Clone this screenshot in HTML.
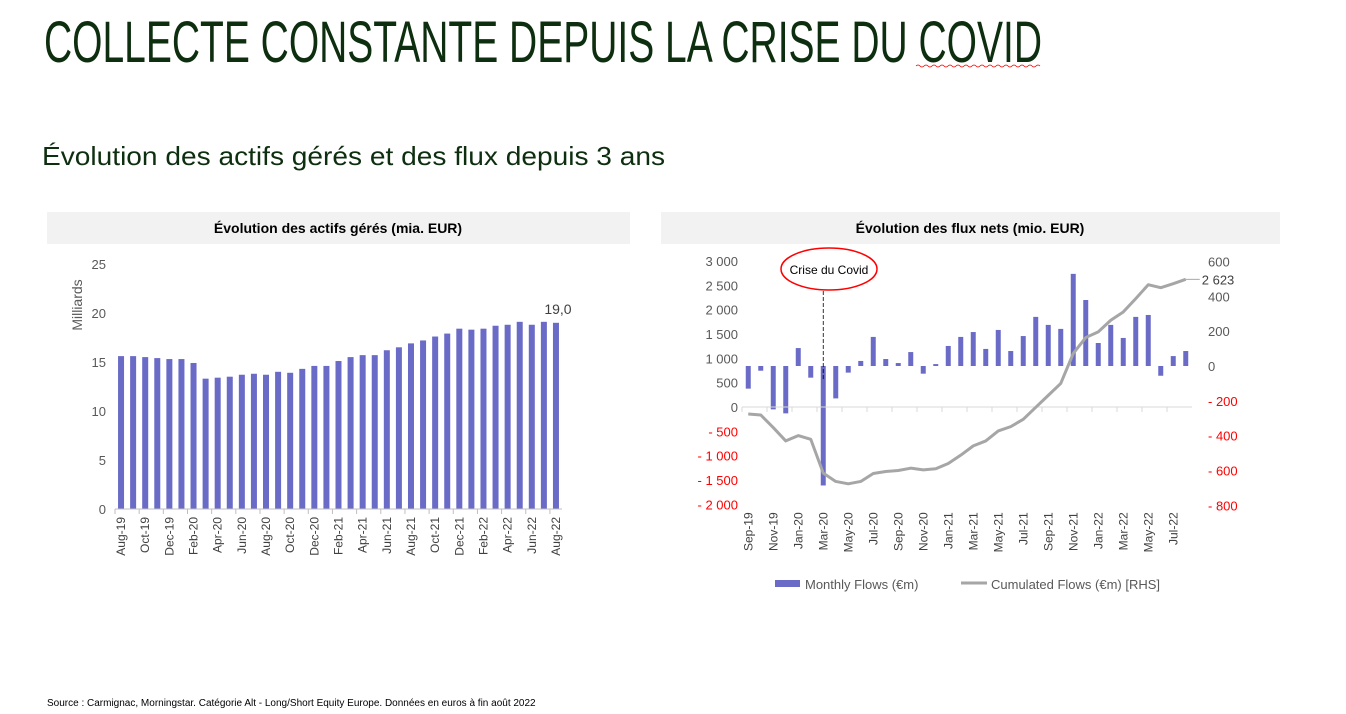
<!DOCTYPE html>
<html><head><meta charset="utf-8">
<style>
html,body{margin:0;padding:0;background:#fff;width:1346px;height:714px;overflow:hidden}
svg{display:block;font-family:"Liberation Sans",sans-serif}
</style></head>
<body>
<svg id="root" width="1346" height="714" viewBox="0 0 1346 714">
<text x="44" y="62" font-family="'Liberation Sans Narrow','Liberation Sans',sans-serif" font-size="58" fill="#0d2e0f" textLength="998" lengthAdjust="spacingAndGlyphs">COLLECTE CONSTANTE DEPUIS LA CRISE DU COVID</text>
<path d="M916 66 q2 -2 4 0 t4 0 t4 0 t4 0 t4 0 t4 0 t4 0 t4 0 t4 0 t4 0 t4 0 t4 0 t4 0 t4 0 t4 0 t4 0 t4 0 t4 0 t4 0 t4 0 t4 0 t4 0 t4 0 t4 0 t4 0 t4 0 t4 0 t4 0 t4 0 t4 0 t4 0" fill="none" stroke="#e00" stroke-width="0.8"/>
<text x="42" y="165" font-size="26" fill="#0d2e0f" textLength="623" lengthAdjust="spacingAndGlyphs">Évolution des actifs gérés et des flux depuis 3 ans</text>

<rect x="47" y="212" width="583" height="32" fill="#f2f2f2"/>
<text x="338" y="233" font-size="14" font-weight="bold" text-anchor="middle" fill="#000">Évolution des actifs gérés (mia. EUR)</text>
<rect x="661" y="212" width="619" height="32" fill="#f2f2f2"/>
<text x="970" y="233" font-size="14" font-weight="bold" text-anchor="middle" fill="#000">Évolution des flux nets (mio. EUR)</text>

<g id="left"></g>
<g id="right"></g>

<text x="47" y="706" font-size="10" fill="#000">Source : Carmignac, Morningstar. Catégorie Alt - Long/Short Equity Europe. Données en euros à fin août 2022</text>
</svg>
<script>
const aumMonths=["Aug-19","Sep-19","Oct-19","Nov-19","Dec-19","Jan-20","Feb-20","Mar-20","Apr-20","May-20","Jun-20","Jul-20","Aug-20","Sep-20","Oct-20","Nov-20","Dec-20","Jan-21","Feb-21","Mar-21","Apr-21","May-21","Jun-21","Jul-21","Aug-21","Sep-21","Oct-21","Nov-21","Dec-21","Jan-22","Feb-22","Mar-22","Apr-22","May-22","Jun-22","Jul-22","Aug-22"];
const aumValues=[15.6,15.6,15.5,15.4,15.3,15.3,14.9,13.3,13.4,13.5,13.7,13.8,13.7,14.0,13.9,14.3,14.6,14.6,15.1,15.5,15.7,15.7,16.2,16.5,16.9,17.2,17.6,17.9,18.4,18.3,18.4,18.7,18.8,19.1,18.8,19.1,19.0];
const aumTicks=[0,5,10,15,20,25];
const flowMonths=["Sep-19","Oct-19","Nov-19","Dec-19","Jan-20","Feb-20","Mar-20","Apr-20","May-20","Jun-20","Jul-20","Aug-20","Sep-20","Oct-20","Nov-20","Dec-20","Jan-21","Feb-21","Mar-21","Apr-21","May-21","Jun-21","Jul-21","Aug-21","Sep-21","Oct-21","Nov-21","Dec-21","Jan-22","Feb-22","Mar-22","Apr-22","May-22","Jun-22","Jul-22","Aug-22"];
const monthlyFlows=[-130,-27,-249,-272,103,-67,-686,-186,-38,29,167,40,17,80,-44,11,115,167,195,98,207,86,172,282,236,213,529,379,132,236,161,282,293,-56,57,86];
const cumFlows=[-143,-164,-423,-697,-587,-663,-1359,-1530,-1578,-1530,-1366,-1325,-1305,-1257,-1291,-1270,-1161,-990,-799,-697,-492,-403,-253,-7,239,485,1100,1427,1544,1783,1953,2227,2513,2452,2534,2623];
const leftTicks=[-2000,-1500,-1000,-500,0,500,1000,1500,2000,2500,3000];
const rightTicks=[-800,-600,-400,-200,0,200,400,600];

const NS="http://www.w3.org/2000/svg";
function mk(parent,tag,attrs,txt){const e=document.createElementNS(NS,tag);for(const k in attrs)e.setAttribute(k,attrs[k]);if(txt!==undefined)e.textContent=txt;parent.appendChild(e);return e;}
function fmt(v){const s=Math.abs(v).toString().replace(/\B(?=(\d{3})+(?!\d))/g," ");return v<0?"- "+s:s;}

const L=document.getElementById('left');
const lx0=115,lx1=562,ly0=509,ly1=264;
const ly=v=>ly0-(v-0)/(25-0)*(ly0-ly1);
const lbw=(lx1-lx0)/aumMonths.length;
aumTicks.forEach(t=>{
 const e=mk(L,'text',{x:106,y:ly(t)+5,'font-size':13,'text-anchor':'end',fill:'#595959'},String(t));
 
 
});
const yt=mk(L,'text',{x:0,y:0,'font-size':14,'text-anchor':'middle',fill:'#595959',transform:'translate(82,305) rotate(-90)'},'Milliards');


aumValues.forEach((v,i)=>{
 const cx=lx0+lbw*(i+0.5);
 const r=mk(L,'rect',{x:cx-3,y:ly(v),width:6,height:ly0-ly(v),fill:'#6a6bc7'});
 
 
 if(i%2===0){
  const t=mk(L,'text',{x:0,y:0,'font-size':12,'text-anchor':'end',fill:'#404040',transform:`translate(${cx+4},${ly0+8}) rotate(-90)`},aumMonths[i]);
  
  
  const tk=mk(L,'line',{x1:lx0+lbw*i,x2:lx0+lbw*i,y1:ly0,y2:ly0+5,stroke:'#bfbfbf'});
  
  
 }
});
const la=mk(L,'line',{x1:lx0,x2:lx1,y1:ly0,y2:ly0,stroke:'#bfbfbf'});


const lastV=aumValues[aumValues.length-1];
const lbl=mk(L,'text',{x:lx0+lbw*(aumValues.length-0.5)+2,y:ly(lastV)-9,'font-size':14,'text-anchor':'middle',fill:'#404040'},lastV.toFixed(1).replace('.',','));



const R=document.getElementById('right');
const rx0=742,rx1=1192;
const yL=v=>407-v*(146/3000);
const yR=v=>366-v*(104.5/600);
const rbw=(rx1-rx0)/flowMonths.length;
leftTicks.forEach(t=>{
 const e=mk(R,'text',{x:738,y:yL(t)+5,'font-size':13,'text-anchor':'end',fill:t<0?'#ff0000':'#595959'},fmt(t));
 
 
});
rightTicks.forEach(t=>{
 const e=mk(R,'text',{x:1208,y:yR(t)+5,'font-size':13,'text-anchor':'start',fill:t<0?'#ff0000':'#595959'},fmt(t));
 
 
});
monthlyFlows.forEach((v,i)=>{
 const cx=rx0+rbw*(i+0.5);
 const y=Math.min(yR(v),yR(0)),h=Math.abs(yR(v)-yR(0));
 const r=mk(R,'rect',{x:cx-2.5,y:y,width:5,height:h,fill:'#6a6bc7'});
 
 
 if(i%2===0){
  const t=mk(R,'text',{x:0,y:0,'font-size':12,'text-anchor':'end',fill:'#404040',transform:`translate(${cx+4},${yL(-2000)+8}) rotate(-90)`},flowMonths[i]);
  
  
  const tk=mk(R,'line',{x1:rx0+rbw*i,x2:rx0+rbw*i,y1:yL(0),y2:yL(0)+5,stroke:'#d9d9d9'});
  
  
 }
});
const ra=mk(R,'line',{x1:rx0,x2:rx1,y1:yL(0),y2:yL(0),stroke:'#d9d9d9'});


const pts=cumFlows.map((v,i)=>`${rx0+rbw*(i+0.5)},${yL(v)}`).join(' ');
const pl=mk(R,'polyline',{points:pts,fill:'none',stroke:'#a6a6a6','stroke-width':3,'stroke-linejoin':'round'});


const lastC=cumFlows[cumFlows.length-1];
const lx=rx0+rbw*(cumFlows.length-0.5);
const ll=mk(R,'line',{x1:lx,x2:lx+14,y1:yL(lastC),y2:yL(lastC),stroke:'#a6a6a6','stroke-width':1});


const cl=mk(R,'text',{x:lx+16,y:yL(lastC)+5,'font-size':13,fill:'#404040'},fmt(lastC));


const covIdx=flowMonths.indexOf("Mar-20");
const covX=rx0+rbw*(covIdx+0.5);
const dl=mk(R,'line',{x1:covX,x2:covX,y1:291,y2:380,stroke:'#000','stroke-dasharray':'4,2','stroke-width':0.8});


const el=mk(R,'ellipse',{cx:829,cy:269,rx:48,ry:21,fill:'#fff',stroke:'#ff0000','stroke-width':1.5});


const ct=mk(R,'text',{x:829,y:274,'font-size':12,'text-anchor':'middle',fill:'#000'},'Crise du Covid');


const lg1=mk(R,'rect',{x:775,y:580,width:25,height:7,fill:'#6a6bc7'});


const lt1=mk(R,'text',{x:805,y:589,'font-size':13,fill:'#595959'},'Monthly Flows (€m)');


const lg2=mk(R,'line',{x1:961,x2:987,y1:583,y2:583,stroke:'#a6a6a6','stroke-width':3});


const lt2=mk(R,'text',{x:991,y:589,'font-size':13,fill:'#595959'},'Cumulated Flows (€m) [RHS]');


</script>
</body></html>
